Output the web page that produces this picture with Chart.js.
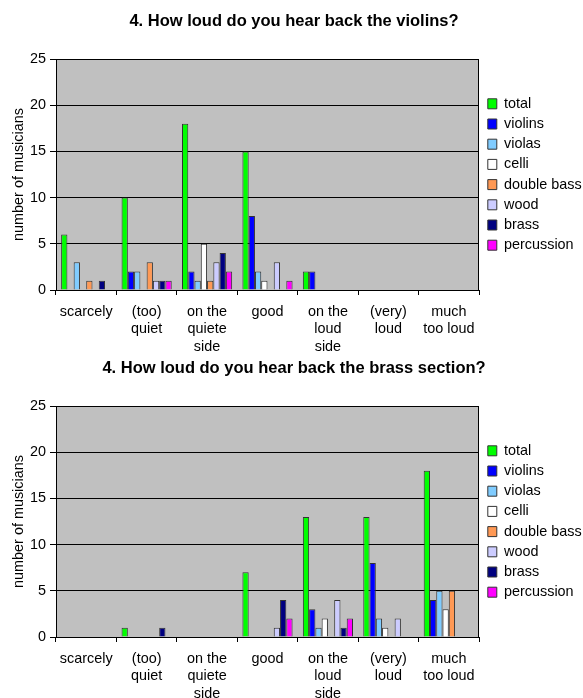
<!DOCTYPE html>
<html>
<head>
<meta charset="utf-8">
<script src="https://cdn.jsdelivr.net/npm/chart.js@4.4.1/dist/chart.umd.min.js"></script>
<style>
    html, body { margin: 0; padding: 0; background: #fff; overflow: hidden; }
    .chart-box { position: absolute; left: 0; width: 583px; }
</style>
</head>
<body>
<div class="chart-box" style="top:0; height:360px"><canvas id="violins-chart"></canvas></div>
<div class="chart-box" style="top:347px; height:351px"><canvas id="brass-chart"></canvas></div>
<script>
// Answer categories (x axis)
const categories = [
    'scarcely',
    ['(too)', 'quiet'],
    ['on the', 'quiete', 'side'],
    'good',
    ['on the', 'loud', 'side'],
    ['(very)', 'loud'],
    ['much', 'too loud']
];
const seriesNames = ['total', 'violins', 'violas', 'celli', 'double bass', 'wood', 'brass', 'percussion'];
const seriesColors = ['#00ff00', '#0000ff', '#80ccff', '#ffffff', '#ff9955', '#ccccff', '#000080', '#ff00ff'];
const yTicks = [0, 5, 10, 15, 20, 25];

// Chart 1: hearing back the violins
const violinsTotal      = [6, 10, 18, 15, 2, 0, 0];
const violinsViolins    = [0, 2, 2, 8, 2, 0, 0];
const violinsViolas     = [3, 2, 1, 2, 0, 0, 0];
const violinsCelli      = [0, 0, 5, 1, 0, 0, 0];
const violinsDoubleBass = [1, 3, 1, 0, 0, 0, 0];
const violinsWood       = [0, 1, 3, 3, 0, 0, 0];
const violinsBrass      = [1, 1, 4, 0, 0, 0, 0];
const violinsPercussion = [0, 1, 2, 1, 0, 0, 0];

// Chart 2: hearing back the brass section
const brassTotal      = [0, 1, 0, 7, 13, 13, 18];
const brassViolins    = [0, 0, 0, 0, 3, 8, 4];
const brassViolas     = [0, 0, 0, 0, 1, 2, 5];
const brassCelli      = [0, 0, 0, 0, 2, 1, 3];
const brassDoubleBass = [0, 0, 0, 0, 0, 0, 5];
const brassWood       = [0, 0, 0, 1, 4, 2, 0];
const brassBrass      = [0, 1, 0, 4, 1, 0, 0];
const brassPercussion = [0, 0, 0, 2, 2, 0, 0];

const FONT = "'Liberation Sans', Arial, sans-serif";

// grey plot background + black frame, like the old spreadsheet chart
const plotFrame = {
    id: 'plotFrame',
    beforeDraw(chart) {
        const a = chart.chartArea;
        const ctx = chart.ctx;
        ctx.save();
        ctx.fillStyle = '#c0c0c0';
        ctx.fillRect(a.left, a.top, a.right - a.left, a.bottom - a.top);
        ctx.restore();
    },
    afterDatasetsDraw(chart) {
        const a = chart.chartArea;
        const ctx = chart.ctx;
        ctx.save();
        ctx.strokeStyle = '#000';
        ctx.lineWidth = 1;
        ctx.strokeRect(Math.round(a.left) + 0.5, Math.round(a.top) + 0.5,
            Math.round(a.right - a.left) - 1, Math.round(a.bottom - a.top));
        ctx.restore();
    },
    afterLayout(chart) {
        // small gap between plot frame and legend, legend centred on the plot
        const legend = chart.legend;
        const a = chart.chartArea;
        const dy = (a.top + a.bottom) / 2 - (legend.top + legend.bottom) / 2;
        legend.left += 3;
        legend.right += 3;
        legend.top += dy;
        legend.bottom += dy;
    }
};

// xHeight: height of the category axis box (room for three label lines)
function makeChart(canvasId, title, series, xHeight) {
    const datasets = series.map((values, i) => ({
        label: seriesNames[i],
        data: values,
        backgroundColor: seriesColors[i],
        borderColor: '#333333',
        borderWidth: 1,
        categoryPercentage: 0.83,
        barPercentage: 1.0
    }));

    return new Chart(document.getElementById(canvasId), {
        type: 'bar',
        data: { labels: categories, datasets: datasets },
        options: {
            responsive: true,
            maintainAspectRatio: false,
            animation: false,
            layout: { padding: { left: 5, right: 0, top: 0, bottom: 0 } },
            plugins: {
                title: {
                    display: true,
                    text: title,
                    color: '#000',
                    font: { family: FONT, size: 16.5, weight: 'bold', lineHeight: 1.2 },
                    padding: { top: 12, bottom: 27.2 }
                },
                legend: {
                    position: 'right',
                    maxWidth: 104,
                    labels: {
                        color: '#000',
                        font: { family: FONT, size: 14.4 },
                        boxWidth: 9,
                        boxHeight: 10,
                        padding: 5.8
                    }
                },
                tooltip: { enabled: false }
            },
            scales: {
                x: {
                    grid: {
                        display: true,
                        offset: true,
                        drawOnChartArea: false,
                        drawTicks: true,
                        tickLength: 5,
                        color: '#000'
                    },
                    border: { color: '#000' },
                    ticks: {
                        color: '#000',
                        font: { family: FONT, size: 14.4, lineHeight: 1.236 },
                        maxRotation: 0,
                        autoSkip: false,
                        padding: 7.8
                    },
                    afterFit: scale => { scale.height = xHeight; }
                },
                y: {
                    min: 0,
                    max: 25,
                    afterBuildTicks: scale => { scale.ticks = yTicks.map(v => ({ value: v })); },
                    grid: { color: '#000', tickLength: 6 },
                    border: { color: '#000' },
                    ticks: {
                        color: '#000',
                        font: { family: FONT, size: 14.4 },
                        padding: 4
                    },
                    title: {
                        display: true,
                        text: 'number of musicians',
                        color: '#000',
                        font: { family: FONT, size: 14.4 },
                        padding: { top: 5, bottom: 0 }
                    },
                    afterFit: scale => { scale.width = 51; }
                }
            }
        },
        plugins: [plotFrame]
    });
}

document.addEventListener('DOMContentLoaded', () => {
    makeChart('violins-chart', '4. How loud do you hear back the violins?', [
        violinsTotal, violinsViolins, violinsViolas, violinsCelli,
        violinsDoubleBass, violinsWood, violinsBrass, violinsPercussion
    ], 70);
    makeChart('brass-chart', '4. How loud do you hear back the brass section?', [
        brassTotal, brassViolins, brassViolas, brassCelli,
        brassDoubleBass, brassWood, brassBrass, brassPercussion
    ], 61);
});
</script>
</body>
</html>
